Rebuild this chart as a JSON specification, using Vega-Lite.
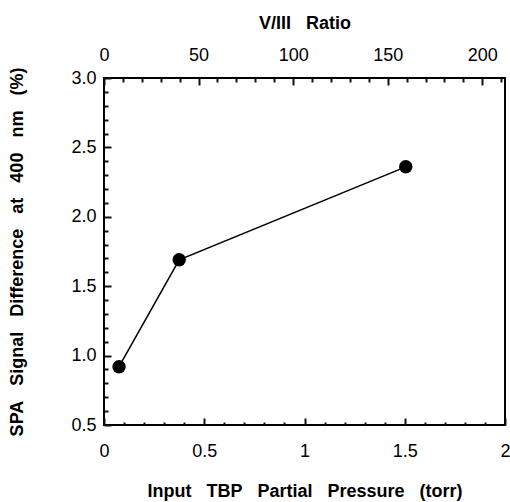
{
  "$schema": "https://vega.github.io/schema/vega-lite/v6.json",
  "width": 401,
  "height": 347,
  "autosize": {"type": "none"},
  "padding": {"left": 104, "top": 78, "right": 5, "bottom": 77},
  "background": "white",
  "config": {
    "view": {"stroke": "black", "strokeWidth": 2},
    "axis": {
      "labelFont": "Liberation Sans",
      "labelFontSize": 18,
      "labelColor": "black",
      "titleFont": "Liberation Sans",
      "titleFontSize": 18,
      "titleFontWeight": "bold",
      "titleColor": "black",
      "domain": false,
      "grid": false,
      "labelFlush": false,
      "labelOverlap": false
    }
  },
  "data": {
    "values": [
      {"pressure": 0.075, "signal": 0.92},
      {"pressure": 0.375, "signal": 1.69},
      {"pressure": 1.505, "signal": 2.36}
    ]
  },
  "resolve": {"scale": {"x": "independent", "y": "independent"}},
  "layer": [
    {
      "mark": {"type": "line", "color": "black", "strokeWidth": 1.5, "point": {"filled": true, "color": "black", "size": 180, "opacity": 1}},
      "encoding": {
        "x": {
          "field": "pressure", "type": "quantitative",
          "scale": {"domain": [0, 2], "nice": false, "zero": false},
          "axis": {
            "orient": "bottom",
            "values": [0, 0.5, 1, 1.5, 2], "format": "~g",
            "ticks": true, "tickSize": -7, "tickColor": "#111111", "tickWidth": 2,
            "labelPadding": 38, "labelBaseline": "alphabetic",
            "title": "Input\u00a0\u00a0\u00a0TBP\u00a0\u00a0\u00a0Partial\u00a0\u00a0\u00a0Pressure\u00a0\u00a0\u00a0(torr)", "titleY": 71, "titleBaseline": "alphabetic"
          }
        },
        "y": {
          "field": "signal", "type": "quantitative",
          "scale": {"domain": [0.5, 3], "nice": false, "zero": false},
          "axis": {
            "orient": "left",
            "values": [0.5, 1, 1.5, 2, 2.5, 3], "format": ".1f",
            "ticks": true, "tickSize": -7, "tickColor": "#111111", "tickWidth": 2,
            "labelPadding": 15,
            "title": "SPA\u00a0\u00a0\u00a0Signal\u00a0\u00a0\u00a0Difference\u00a0\u00a0\u00a0at\u00a0\u00a0\u00a0400\u00a0\u00a0\u00a0nm\u00a0\u00a0\u00a0(%)", "titleX": -87, "titleBaseline": "middle"
          }
        }
      }
    },
    {
      "mark": {"type": "point", "opacity": 0},
      "encoding": {
        "x": {
          "field": "pressure", "type": "quantitative",
          "scale": {"domain": [0, 212], "nice": false, "zero": false},
          "axis": {
            "orient": "top",
            "values": [0, 50, 100, 150, 200], "format": "d",
            "ticks": true, "tickSize": -7, "tickColor": "#111111", "tickWidth": 2,
            "labelPadding": 25, "labelBaseline": "alphabetic",
            "title": "V/III\u00a0\u00a0\u00a0Ratio", "titleY": -50, "titleBaseline": "alphabetic"
          }
        },
        "y": {
          "field": "signal", "type": "quantitative",
          "scale": {"domain": [0.5, 3], "nice": false, "zero": false},
          "axis": {
            "orient": "left",
            "values": [0.6, 0.7, 0.8, 0.9, 1.1, 1.2, 1.3, 1.4, 1.6, 1.7, 1.8, 1.9, 2.1, 2.2, 2.3, 2.4, 2.6, 2.7, 2.8, 2.9],
            "labels": false, "title": null,
            "ticks": true, "tickSize": 4, "offset": -4, "tickColor": "#111111", "tickWidth": 2
          }
        }
      }
    },
    {
      "mark": {"type": "point", "opacity": 0},
      "encoding": {
        "x": {
          "field": "pressure", "type": "quantitative",
          "scale": {"domain": [0, 2], "nice": false, "zero": false},
          "axis": {
            "orient": "bottom",
            "values": [0.1, 0.2, 0.3, 0.4, 0.6, 0.7, 0.8, 0.9, 1.1, 1.2, 1.3, 1.4, 1.6, 1.7, 1.8, 1.9],
            "labels": false, "title": null,
            "ticks": true, "tickSize": 3, "offset": -3, "tickColor": "#111111", "tickWidth": 2
          }
        }
      }
    },
    {
      "mark": {"type": "point", "opacity": 0},
      "encoding": {
        "x": {
          "field": "pressure", "type": "quantitative",
          "scale": {"domain": [0, 212], "nice": false, "zero": false},
          "axis": {
            "orient": "top",
            "values": [10, 20, 30, 40, 60, 70, 80, 90, 110, 120, 130, 140, 160, 170, 180, 190, 210],
            "labels": false, "title": null,
            "ticks": true, "tickSize": 4, "offset": -4, "tickColor": "#111111", "tickWidth": 2
          }
        }
      }
    }
  ]
}
